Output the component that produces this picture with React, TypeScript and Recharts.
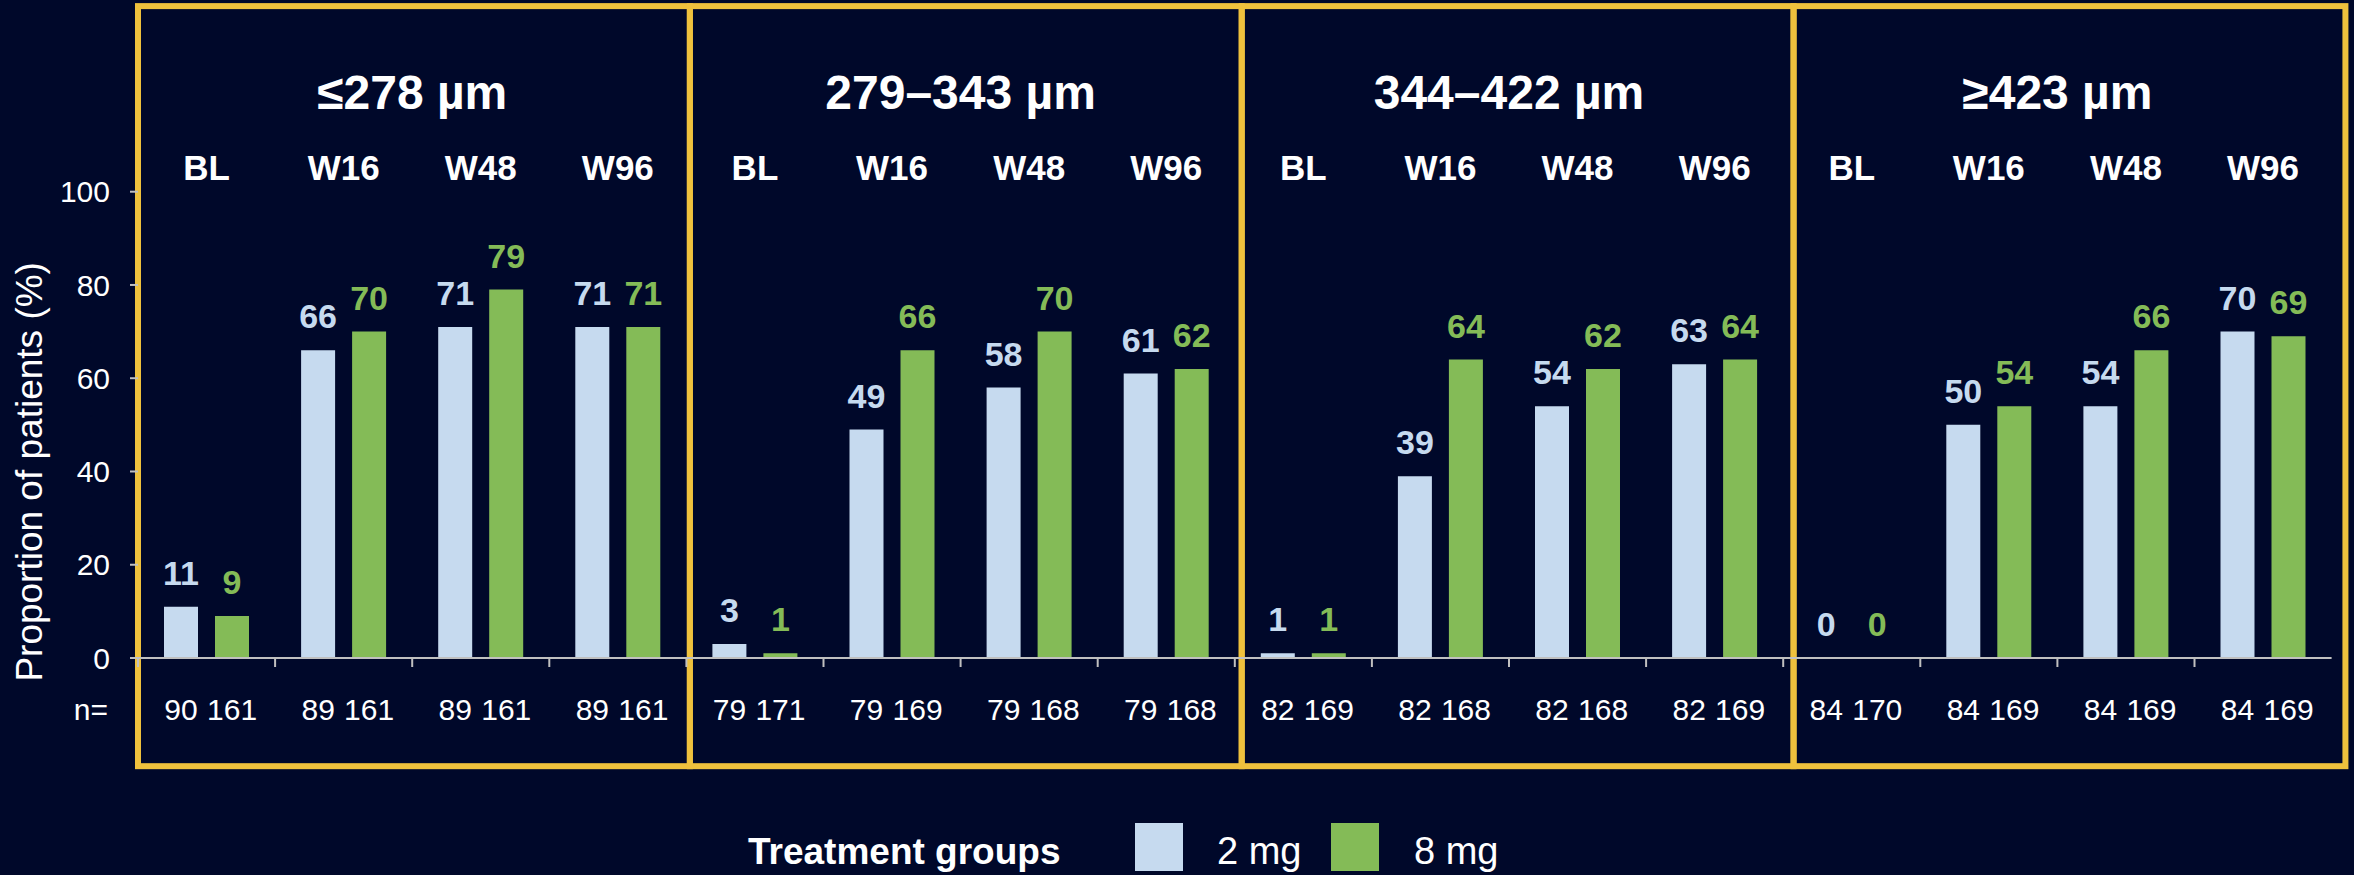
import { BarChart, Bar, XAxis, YAxis, ReferenceArea, LabelList, Legend } from 'recharts';

const bands = ['≤278 µm', '279–343 µm', '344–422 µm', '≥423 µm'];
const visits = ['BL', 'W16', 'W48', 'W96'];

// proportion of patients (%) per band x visit, in band order
const pct2mg = [11, 66, 71, 71, 3, 49, 58, 61, 1, 39, 54, 63, 0, 50, 54, 70];
const pct8mg = [9, 70, 79, 71, 1, 66, 70, 62, 1, 64, 62, 64, 0, 54, 66, 69];

// patients per group
const n2mg = [90, 89, 89, 89, 79, 79, 79, 79, 82, 82, 82, 82, 84, 84, 84, 84];
const n8mg = [161, 161, 161, 161, 171, 169, 168, 168, 169, 168, 168, 169, 170, 169, 169, 169];

const yTicks = [0, 20, 40, 60, 80, 100];

const data = bands.flatMap((band, b) =>
  visits.map((visit, v) => {
    const i = b * visits.length + v;
    return { key: `${band}|${visit}`, band, visit, mg2: pct2mg[i], mg8: pct8mg[i], n2: n2mg[i], n8: n8mg[i] };
  })
);

const BG = '#00082a';
const YELLOW = '#efc13d';
const BLUE = '#c6daef';
const GREEN = '#84bb57';
const AXIS = '#c0c0c0';

const Y_AXIS_W = 138;
const MARGIN = { top: 151.7, right: 22.4, bottom: 137, left: 0 };
const PLOT_LEFT = MARGIN.left + Y_AXIS_W;

// yellow frames reach past the 0-100 range and are a touch wider than 4 bands
const BOX_TOP = 139.8;
const BOX_BOTTOM = -23.2;
const BOX_STRETCH = 1.0063;
const N_MARGIN = 62;

function NTick(props: any) {
  const { x, y, payload, index } = props;
  const row = data.find((d) => d.key === payload.value);
  if (!row) return null;
  const half = payload.offset || 0;
  const axisY = y - N_MARGIN;
  return (
    <g>
      <line x1={x - half} x2={x - half} y1={axisY} y2={axisY + 9} stroke={AXIS} strokeWidth={2} />
      {index === 0 && (
        <text x={x - half - 30} y={y} textAnchor="end" fill="#fff" fontSize={30}>
          n=
        </text>
      )}
      <text x={x - 25.5} y={y} textAnchor="middle" fill="#fff" fontSize={30}>
        {row.n2}
      </text>
      <text x={x + 25.5} y={y} textAnchor="middle" fill="#fff" fontSize={30}>
        {row.n8}
      </text>
    </g>
  );
}

function BoxShape(props: any) {
  const { x, y, width, height } = props;
  const left = PLOT_LEFT + (x - PLOT_LEFT) * BOX_STRETCH;
  return (
    <rect x={left} y={y} width={width * BOX_STRETCH} height={height} fill="none" stroke={YELLOW} strokeWidth={6} />
  );
}

const barLabel = (color: string) => (props: any) => {
  const vb = props.viewBox || props;
  const cx = vb.x + vb.width / 2;
  const top = Math.min(vb.y, vb.y + vb.height);
  return (
    <text x={cx} y={top - 22} textAnchor="middle" fill={color} fontSize={34} fontWeight="bold">
      {props.value}
    </text>
  );
};

function TreatmentLegend({ payload }: any) {
  return (
    <svg width={800} height={60} style={{ overflow: 'visible' }}>
      <text x={8} y={49} fill="#fff" fontSize={37} fontWeight="bold">
        Treatment groups
      </text>
      {(payload || []).map((entry: any, i: number) => (
        <g key={entry.value}>
          <rect x={395 + i * 196} y={8} width={48} height={48} fill={entry.color} />
          <text x={477 + i * 197} y={49} fill="#fff" fontSize={38}>
            {entry.value}
          </text>
        </g>
      ))}
    </svg>
  );
}

function YTitle({ viewBox }: any) {
  const cx = viewBox.x + 42;
  const cy = viewBox.y + viewBox.height / 2 + 47;
  return (
    <text x={cx} y={cy} transform={`rotate(-90 ${cx} ${cy})`} textAnchor="middle" fill="#fff" fontSize={37}>
      Proportion of patients (%)
    </text>
  );
}

export default function App() {
  return (
    <div
      style={{
        position: 'absolute',
        left: 0,
        top: 0,
        width: 2354,
        height: 875,
        background: BG,
        fontFamily: '"Liberation Sans", Arial, sans-serif',
      }}
    >
      <BarChart width={2354} height={875} data={data} margin={MARGIN} barSize={34} barGap={17}>
        <XAxis
          xAxisId="top"
          orientation="top"
          dataKey="key"
          height={40}
          interval={0}
          axisLine={false}
          tickLine={false}
          tickSize={0}
          tickMargin={12}
          tickFormatter={(v: string) => v.split('|')[1]}
          tick={{ fill: '#fff', fontSize: 35, fontWeight: 'bold' }}
        />
        <XAxis
          xAxisId="bottom"
          dataKey="key"
          height={80}
          interval={0}
          axisLine={{ stroke: AXIS, strokeWidth: 2 }}
          tickLine={false}
          tickSize={0}
          tickMargin={N_MARGIN}
          tick={<NTick />}
        />
        <YAxis
          width={Y_AXIS_W}
          domain={[0, 100]}
          ticks={yTicks}
          axisLine={false}
          tickLine={{ stroke: AXIS, strokeWidth: 2 }}
          tickSize={8}
          tickMargin={20}
          tick={{ fill: '#fff', fontSize: 30 }}
          label={{ content: <YTitle /> }}
        />
        {bands.map((band) => (
          <ReferenceArea
            key={band}
            xAxisId="bottom"
            x1={`${band}|${visits[0]}`}
            x2={`${band}|${visits[visits.length - 1]}`}
            y1={BOX_BOTTOM}
            y2={BOX_TOP}
            ifOverflow="visible"
            shape={<BoxShape />}
            label={{ value: band, position: 'insideTop', offset: 69, fill: '#fff', fontSize: 48, fontWeight: 'bold' }}
          />
        ))}
        <Legend
          layout="horizontal"
          verticalAlign="middle"
          align="center"
          width={800}
          height={60}
          wrapperStyle={{ left: 740, top: 815 }}
          content={<TreatmentLegend />}
        />
        <Bar xAxisId="bottom" dataKey="mg2" name="2 mg" fill={BLUE} minPointSize={0.01} isAnimationActive={false}>
          <LabelList dataKey="mg2" content={barLabel(BLUE)} />
        </Bar>
        <Bar xAxisId="bottom" dataKey="mg8" name="8 mg" fill={GREEN} minPointSize={0.01} isAnimationActive={false}>
          <LabelList dataKey="mg8" content={barLabel(GREEN)} />
        </Bar>
      </BarChart>
    </div>
  );
}
